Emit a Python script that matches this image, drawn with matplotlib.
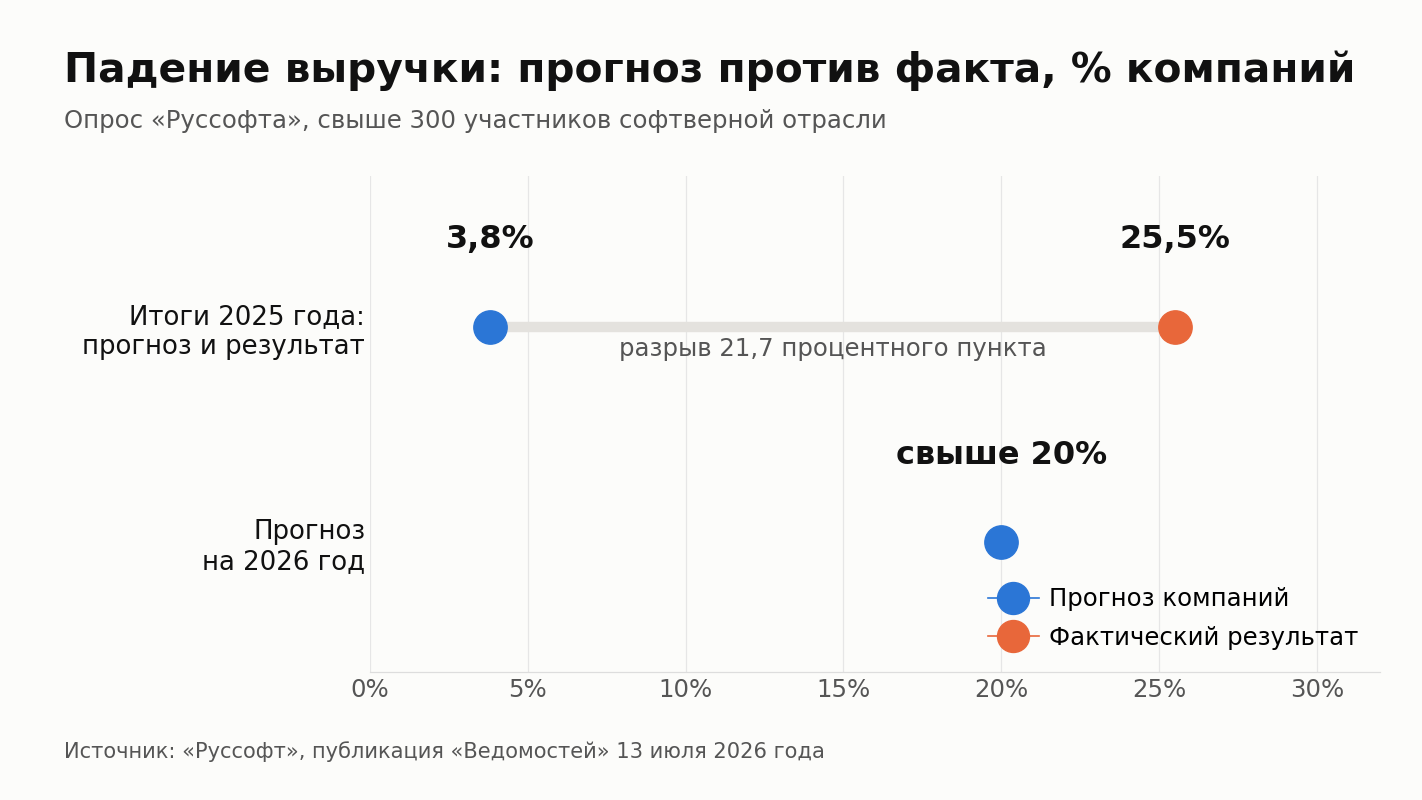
import matplotlib
matplotlib.use("Agg")
import matplotlib.pyplot as plt

categories = ["Итоги 2025 года:\nпрогноз и результат", "Прогноз\nна 2026 год"]
forecast_values = [3.8, 20.0]
actual_values = [25.5]
forecast_labels = ["3,8%", "свыше 20%"]
actual_labels = ["25,5%"]
gap_label = "разрыв 21,7 процентного пункта"
x_ticks = [0, 5, 10, 15, 20, 25, 30]
x_tick_labels = ["0%", "5%", "10%", "15%", "20%", "25%", "30%"]
legend_labels = ["Прогноз компаний", "Фактический результат"]

BG = "#fcfcfa"
BLUE = "#2b76d6"
ORANGE = "#e8673a"
GREY_LINE = "#e4e2de"

plt.rcParams["font.family"] = ["DejaVu Sans"]

fig = plt.figure(figsize=(14.22, 8.0), dpi=100, facecolor=BG)
ax = fig.add_axes([370/1422, 1 - 672/800, (1380-370)/1422, (672-176)/800])
ax.set_facecolor(BG)

ypos = [1, 0]

# connector for 2025
ax.plot([forecast_values[0], actual_values[0]], [ypos[0], ypos[0]], color=GREY_LINE,
        lw=7.5, solid_capstyle="butt", zorder=1)

ms = 24
ax.plot([forecast_values[0]], [ypos[0]], "o", color=BLUE, ms=ms, zorder=3)
ax.plot([actual_values[0]], [ypos[0]], "o", color=ORANGE, ms=ms, zorder=3)
ax.plot([forecast_values[1]], [ypos[1]], "o", color=BLUE, ms=ms, zorder=3)

# value labels
lab_fs = 23
ax.text(forecast_values[0], ypos[0] + 0.405, forecast_labels[0], ha="center", va="center",
        fontsize=lab_fs, fontweight="bold", color="#111111")
ax.text(actual_values[0], ypos[0] + 0.405, actual_labels[0], ha="center", va="center",
        fontsize=lab_fs, fontweight="bold", color="#111111")
ax.text(forecast_values[1], ypos[1] + 0.40, forecast_labels[1], ha="center", va="center",
        fontsize=lab_fs, fontweight="bold", color="#111111")
ax.text((forecast_values[0] + actual_values[0]) / 2, ypos[0] - 0.105, gap_label,
        ha="center", va="center", fontsize=17.6, color="#555555")

ax.set_xlim(0, 32)
ax.set_ylim(-0.605, 1.70)
ax.set_xticks(x_ticks)
ax.set_xticklabels(x_tick_labels, fontsize=17.6, color="#555555")
ax.set_yticks(ypos)
ax.set_yticklabels(categories, fontsize=18.7, color="#111111", linespacing=1.2)
ax.tick_params(axis="both", length=0)
ax.tick_params(axis="x", pad=4)
ax.tick_params(axis="y", pad=3.5)
ax.grid(axis="x", color="#e6e6e6", lw=0.9)
ax.set_axisbelow(True)
for s in ["top", "right", "left"]:
    ax.spines[s].set_visible(False)
ax.spines["bottom"].set_color("#dddddd")
ax.spines["bottom"].set_linewidth(0.9)

h1, = ax.plot([], [], "-o", color=BLUE, ms=23, lw=1.2)
h2, = ax.plot([], [], "-o", color=ORANGE, ms=23, lw=1.2)
ax.legend([h1, h2], legend_labels, loc="lower right", frameon=False, fontsize=17.6,
          bbox_to_anchor=(1.0, 0.0), handlelength=2.1, labelspacing=0.6,
          borderaxespad=0.5, handletextpad=0.4)

fig.text(64/1422, 1 - 71/800, "Падение выручки: прогноз против факта, % компаний",
         fontsize=29.3, fontweight="bold", color="#111111", va="center", ha="left")
fig.text(64/1422, 1 - 121/800, "Опрос «Руссофта», свыше 300 участников софтверной отрасли",
         fontsize=17.6, color="#555555", va="center", ha="left")
fig.text(64/1422, 1 - 752/800, "Источник: «Руссофт», публикация «Ведомостей» 13 июля 2026 года",
         fontsize=15.1, color="#555555", va="center", ha="left")

fig.savefig("out.png", dpi=100, facecolor=BG)
